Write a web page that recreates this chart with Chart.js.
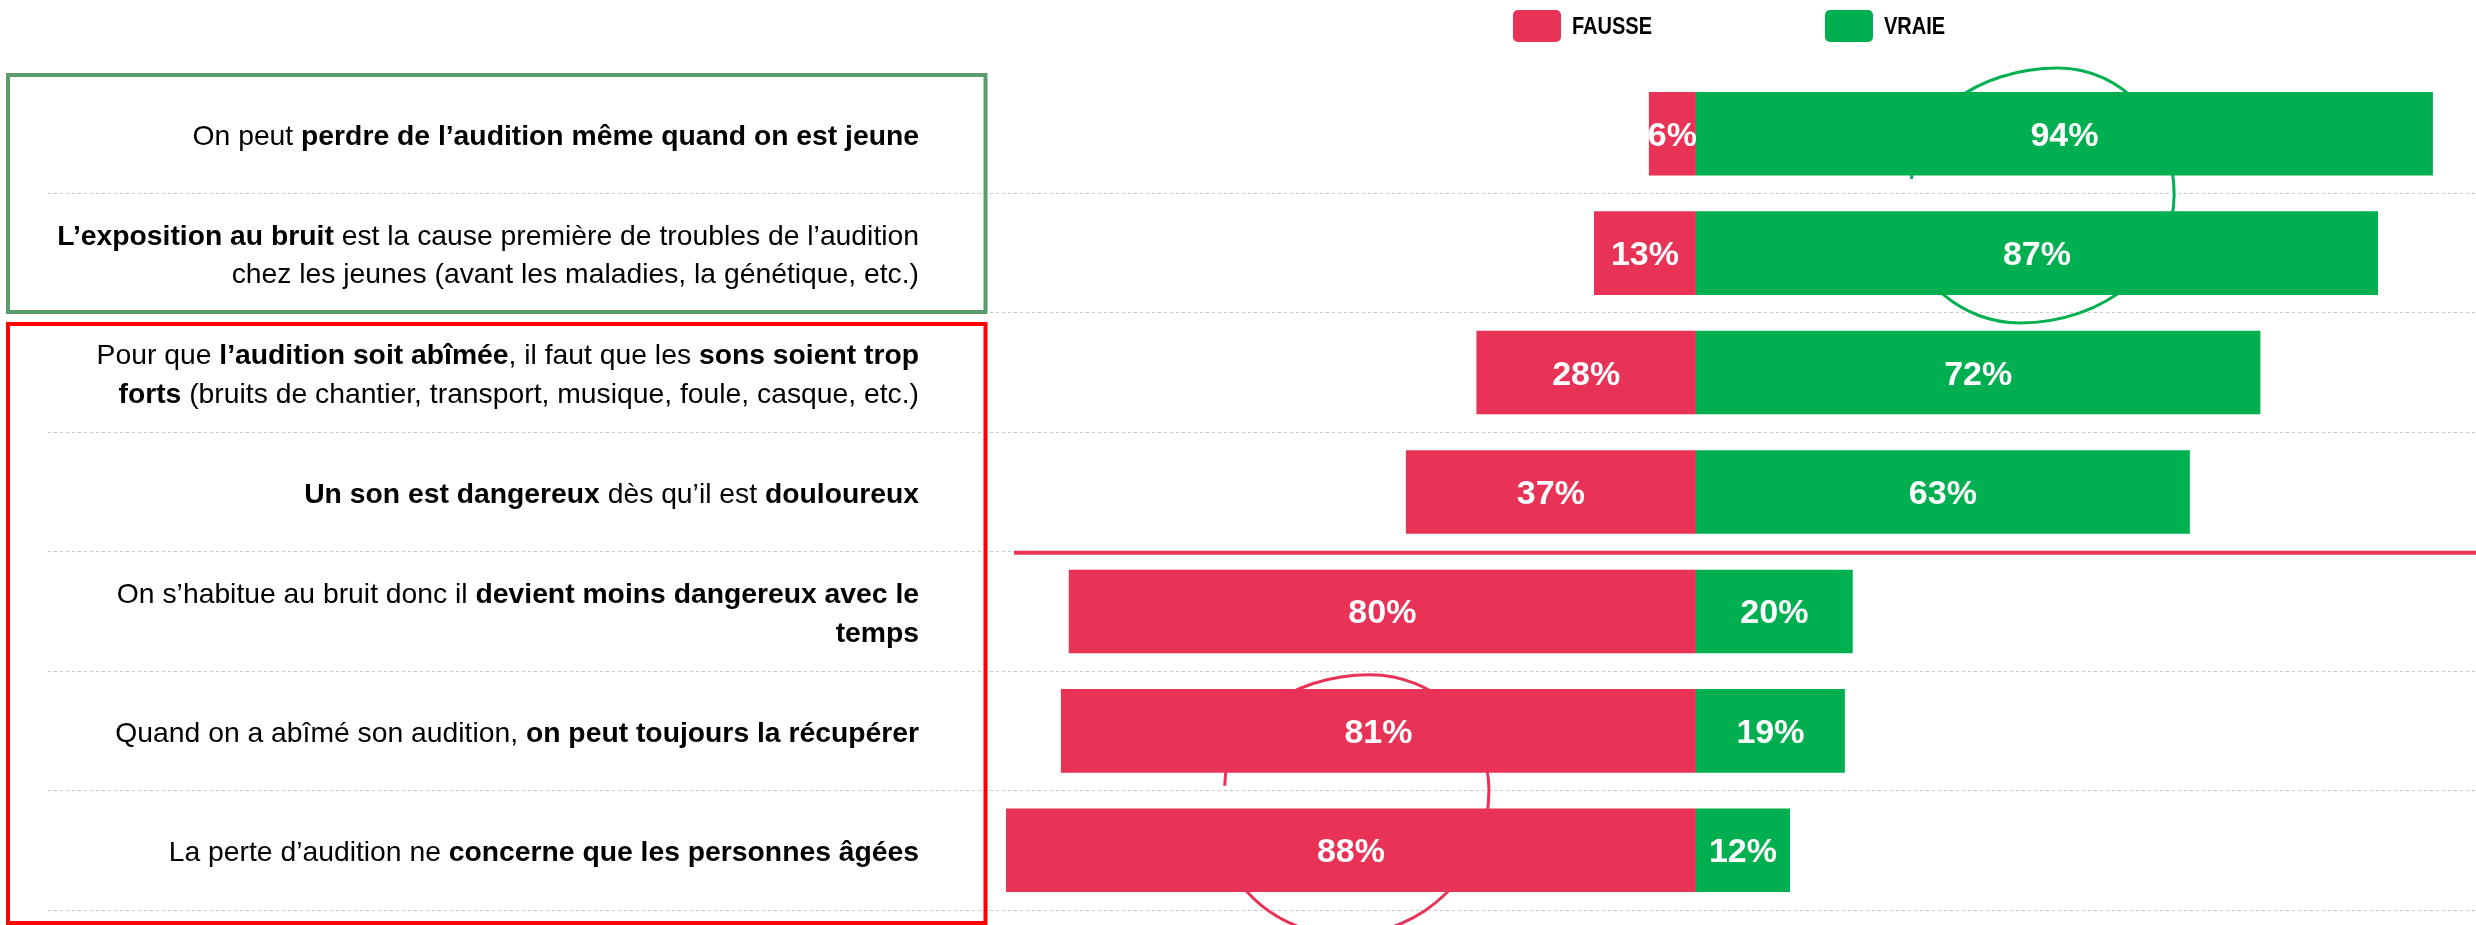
<!DOCTYPE html>
<html lang="fr">
<head>
<meta charset="UTF-8">
<title>Idées reçues sur l'audition</title>
<script src="https://cdn.jsdelivr.net/npm/chart.js@4.4.1/dist/chart.umd.min.js"></script>
<style>
  html, body { margin: 0; padding: 0; background: #fff; }
  #cadre { position: relative; width: 2476px; height: 925px; }
</style>
</head>
<body>
<div id="cadre"><canvas id="graphique"></canvas></div>

<script>
  // affirmations (les passages entre ** sont en gras), une entrée par ligne affichée
  const affirmations = [
    ["On peut **perdre de l’audition même quand on est jeune**"],
    ["**L’exposition au bruit** est la cause première de troubles de l’audition",
     "chez les jeunes (avant les maladies, la génétique, etc.)"],
    ["Pour que **l’audition soit abîmée**, il faut que les **sons soient trop**",
     "**forts** (bruits de chantier, transport, musique, foule, casque, etc.)"],
    ["**Un son est dangereux** dès qu’il est **douloureux**"],
    ["On s’habitue au bruit donc il **devient moins dangereux avec le**",
     "**temps**"],
    ["Quand on a abîmé son audition, **on peut toujours la récupérer**"],
    ["La perte d’audition ne **concerne que les personnes âgées**"]
  ];
  const fausse = [6, 13, 28, 37, 80, 81, 88];   // % "fausse"
  const vraie  = [94, 87, 72, 63, 20, 19, 12];  // % "vraie"

  const ROUGE = '#E83256';
  const VERT = '#00B050';
  const POLICE = '"Liberation Sans", Arial, sans-serif';

  // cercles tracés à la main, repères en unités du graphique (x en %, y en rang de ligne)
  const cercles = [
    { couleur: VERT, pts: [[27.5, 0.38], [46.2, -0.55], [61.0, 0.51], [41.3, 1.585], [27.7, 0.89]] },
    { couleur: ROUGE, pts: [[-60.1, 5.46], [-41.6, 4.53], [-26.4, 5.50], [-44.8, 6.71], [-59.9, 5.955]] }
  ];

  function morceaux(ligne) {
    return ligne.split('**').map((t, i) => ({ t: t, gras: i % 2 === 1 })).filter(m => m.t);
  }

  const dessinsSous = {
    id: 'dessinsSous',
    beforeDatasetsDraw(chart) {
      const { ctx, scales: { x, y } } = chart;
      const k = 0.5523;
      ctx.save();
      ctx.lineWidth = 3;
      cercles.forEach(c => {
        const p = c.pts.map(([vx, vy]) => ({ x: x.getPixelForValue(vx), y: y.getPixelForValue(vy) }));
        const [d, h, dr, b, f] = p;
        ctx.strokeStyle = c.couleur;
        ctx.beginPath();
        ctx.moveTo(d.x, d.y);
        ctx.bezierCurveTo(d.x, d.y - k * (d.y - h.y), h.x - k * (h.x - d.x), h.y, h.x, h.y);
        ctx.bezierCurveTo(h.x + k * (dr.x - h.x), h.y, dr.x, dr.y - k * (dr.y - h.y), dr.x, dr.y);
        ctx.bezierCurveTo(dr.x, dr.y + k * (b.y - dr.y), b.x + k * (dr.x - b.x), b.y, b.x, b.y);
        ctx.bezierCurveTo(b.x - k * (b.x - f.x), b.y, f.x, b.y - k * (b.y - f.y), f.x, f.y);
        ctx.stroke();
      });
      ctx.restore();
    }
  };

  const dessinsDessus = {
    id: 'dessinsDessus',
    afterDatasetsDraw(chart) {
      const { ctx, scales: { x, y } } = chart;
      ctx.save();

      // valeurs dans les barres
      ctx.font = 'bold 34px ' + POLICE;
      ctx.fillStyle = '#fff';
      ctx.textAlign = 'center';
      ctx.textBaseline = 'alphabetic';
      chart.data.datasets.forEach((ds, i) => {
        chart.getDatasetMeta(i).data.forEach((barre, j) => {
          const p = barre.getProps(['x', 'base', 'y', 'height'], true);
          const g = Math.min(p.x, p.base), dr = Math.max(p.x, p.base);
          ctx.save();
          ctx.beginPath();
          ctx.rect(g, p.y - p.height / 2, dr - g, p.height);
          ctx.clip();
          ctx.fillText(Math.abs(ds.data[j]) + '%', (g + dr) / 2, p.y + 12);
          ctx.restore();
        });
      });

      // libellés à gauche, alignés à droite
      ctx.fillStyle = '#000';
      ctx.textAlign = 'left';
      const bordDroit = 919;
      const taille = '28.3px ';
      affirmations.forEach((lignes, j) => {
        const yc = y.getPixelForValue(j);
        lignes.forEach((ligne, k) => {
          const ms = morceaux(ligne);
          let larg = 0;
          ms.forEach(m => {
            ctx.font = (m.gras ? 'bold ' : '') + taille + POLICE;
            m.l = ctx.measureText(m.t).width;
            larg += m.l;
          });
          let xx = bordDroit - larg;
          const yy = yc + 11 + (k - (lignes.length - 1) / 2) * 38.5;
          ms.forEach(m => {
            ctx.font = (m.gras ? 'bold ' : '') + taille + POLICE;
            ctx.fillText(m.t, xx, yy);
            xx += m.l;
          });
        });
      });

      // trait rouge de séparation
      const ySep = (y.getPixelForValue(3) + y.getPixelForValue(4)) / 2;
      ctx.strokeStyle = ROUGE;
      ctx.lineWidth = 4;
      ctx.beginPath();
      ctx.moveTo(1014, ySep + 1);
      ctx.lineTo(chart.chartArea.right, ySep + 1);
      ctx.stroke();

      // cadres autour des libellés
      ctx.lineWidth = 4;
      ctx.strokeStyle = '#5A9C6C';
      ctx.strokeRect(8, 75, 977.5, 237);
      ctx.strokeStyle = '#FF0000';
      ctx.strokeRect(8, 324, 977.5, 599);

      // légende
      const posLegende = [1513, 1825];
      chart.data.datasets.forEach((ds, i) => {
        const bx = posLegende[i];
        ctx.fillStyle = ds.backgroundColor;
        ctx.beginPath();
        ctx.roundRect(bx, 10, 48, 32, 5);
        ctx.fill();
        ctx.save();
        ctx.translate(bx + 59, 34);
        ctx.scale(0.87, 1);
        ctx.fillStyle = '#000';
        ctx.font = 'bold 23px ' + POLICE;
        ctx.fillText(ds.label, 0, 0);
        ctx.restore();
      });

      ctx.restore();
    }
  };

  const ctx = document.getElementById('graphique').getContext('2d');
  const graphique = new Chart(ctx, {
    type: 'bar',
    data: {
      labels: affirmations.map(l => l.join(' ').replace(/\*\*/g, '')),
      datasets: [
        { label: 'FAUSSE', data: fausse.map(v => -v), backgroundColor: ROUGE, barPercentage: 0.7, categoryPercentage: 1 },
        { label: 'VRAIE', data: vraie, backgroundColor: VERT, barPercentage: 0.7, categoryPercentage: 1 }
      ]
    },
    options: {
      indexAxis: 'y',
      responsive: true,
      maintainAspectRatio: false,
      animation: false,
      layout: { padding: { top: 74, bottom: 15, left: 48, right: 0 } },
      plugins: { legend: { display: false }, tooltip: { enabled: false } },
      scales: {
        x: { stacked: true, min: -210.2, max: 99.5, display: false },
        y: {
          stacked: true,
          ticks: { display: false },
          grid: {
            drawTicks: false,
            lineWidth: 1,
            color: c => c.index === 0 ? 'rgba(0,0,0,0)' : '#c8c8c8'
          },
          border: { display: false, dash: [3, 3] },
          afterFit: s => { s.width = 0; }
        }
      }
    },
    plugins: [dessinsSous, dessinsDessus]
  });
</script>
</body>
</html>
